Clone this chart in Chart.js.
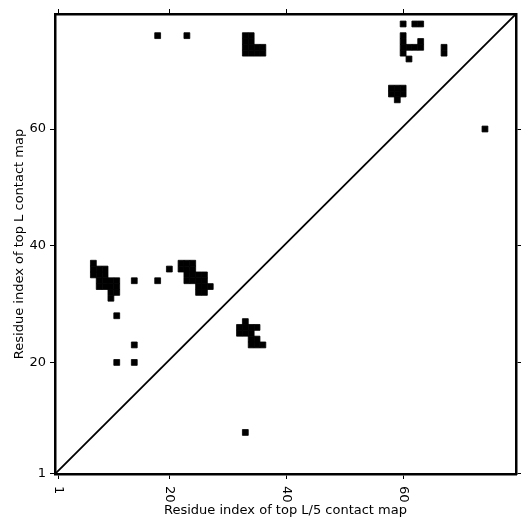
<!DOCTYPE html>
<html>
<head>
<meta charset="utf-8">
<title>Contact map</title>
<script src="https://cdn.jsdelivr.net/npm/chart.js@4/dist/chart.umd.min.js"></script>
<style>
  html, body { margin: 0; padding: 0; background: #fff; }
  canvas { display: block; }
</style>
</head>
<body>
<canvas id="contact-map" width="531" height="531"></canvas>
<script>
// Contact map data (residue indices, 1-based)
const tickValues = [1, 20, 40, 60];
const xRange = [0.435, 79.31];
const yRange = [0.88, 79.71];

// contacts: column (x) and row (y) of each filled cell
const cellCols = [
  18, 23,
  33, 34, 33, 34, 33, 34, 35, 36, 33, 34, 35, 36,
  60, 62, 63,
  60, 60, 60, 60, 61, 62, 63, 63, 61,
  67, 67,
  58, 59, 60, 58, 59, 60, 59,
  74,
  7, 7, 8, 9, 7, 8, 9, 8, 9, 10, 11, 8, 9, 10, 11, 10, 11, 10,
  11, 14, 18, 20, 14, 11, 14,
  22, 23, 24, 22, 23, 24, 23, 24, 25, 26, 23, 24, 25, 26, 25, 26, 27, 25, 26,
  33, 32, 33, 34, 35, 32, 33, 34, 34, 35, 34, 35, 36,
  33
];
const cellRows = [
  76, 76,
  76, 76, 75, 75, 74, 74, 74, 74, 73, 73, 73, 73,
  78, 78, 78,
  76, 75, 74, 73, 74, 74, 74, 75, 72,
  74, 73,
  67, 67, 67, 66, 66, 66, 65,
  60,
  37, 36, 36, 36, 35, 35, 35, 34, 34, 34, 34, 33, 33, 33, 33, 32, 32, 31,
  28, 34, 34, 36, 23, 20, 20,
  37, 37, 37, 36, 36, 36, 35, 35, 35, 35, 34, 34, 34, 34, 33, 33, 33, 32, 32,
  27, 26, 26, 26, 26, 25, 25, 25, 24, 24, 23, 23, 23,
  8
];

// diagonal reference line
const diagonalX = [xRange[0], xRange[1]];
const diagonalY = [yRange[0], yRange[1]];

const xTitle = 'Residue index of top L/5 contact map';
const yTitle = 'Residue index of top L contact map';

Chart.defaults.font.family = "'DejaVu Sans', sans-serif";
Chart.defaults.font.size = 13;
Chart.defaults.color = '#000';

// fixed ticks on every axis
function setTicks(scale) {
  scale.ticks = tickValues.map(v => ({ value: v }));
}

// cell size in pixels from the x scale
function cellRadius(ctx) {
  const s = ctx.chart.scales.x;
  if (!s) return 4;
  return Math.abs(s.getPixelForValue(1) - s.getPixelForValue(0)) / Math.SQRT2;
}

// x tick labels are rotated clockwise, drawn here
const rotatedXLabels = {
  id: 'rotatedXLabels',
  afterDraw(chart) {
    const { ctx } = chart;
    const xs = chart.scales.x;
    ctx.save();
    ctx.font = "13px 'DejaVu Sans', sans-serif";
    ctx.fillStyle = '#000';
    ctx.textAlign = 'left';
    ctx.textBaseline = 'middle';
    tickValues.forEach(v => {
      ctx.save();
      ctx.translate(xs.getPixelForValue(v), xs.top + 12);
      ctx.rotate(Math.PI / 2);
      ctx.fillText(String(v), 0, 0);
      ctx.restore();
    });
    ctx.restore();
  }
};

const axisBase = {
  type: 'linear',
  afterBuildTicks: setTicks,
  grid: { display: true, drawOnChartArea: false, drawTicks: true, tickLength: 5, color: '#000', lineWidth: 1 },
  border: { display: true, color: '#000', width: 2.5 }
};

const chart = new Chart(document.getElementById('contact-map'), {
  type: 'scatter',
  data: {
    datasets: [
      {
        label: 'contacts',
        data: cellCols.map((c, i) => ({ x: c, y: cellRows[i] })),
        pointStyle: 'rect',
        pointRadius: cellRadius,
        pointHoverRadius: cellRadius,
        backgroundColor: '#000',
        borderColor: '#000',
        borderWidth: 0.8
      },
      {
        type: 'line',
        label: 'diagonal',
        data: diagonalX.map((x, i) => ({ x: x, y: diagonalY[i] })),
        borderColor: '#000',
        borderWidth: 1.8,
        pointRadius: 0,
        fill: false
      }
    ]
  },
  options: {
    responsive: false,
    devicePixelRatio: 1,
    animation: false,
    layout: { padding: { top: 14, right: 15, left: 0, bottom: 0 } },
    plugins: { legend: { display: false }, tooltip: { enabled: false } },
    scales: {
      x: {
        ...axisBase,
        position: 'bottom',
        min: xRange[0],
        max: xRange[1],
        ticks: { display: false },
        title: { display: true, text: xTitle, padding: { top: 0, bottom: 13 } },
        afterFit(s) { s.height = 57; }
      },
      y: {
        ...axisBase,
        position: 'left',
        min: yRange[0],
        max: yRange[1],
        ticks: { display: true, padding: 4, callback: v => String(v) },
        title: { display: true, text: yTitle, padding: { top: 12, bottom: 0 } },
        afterFit(s) { s.width = 55; }
      },
      x2: {
        ...axisBase,
        position: 'top',
        min: xRange[0],
        max: xRange[1],
        ticks: { display: false },
        afterFit(s) { s.height = 0; }
      },
      y2: {
        ...axisBase,
        position: 'right',
        min: yRange[0],
        max: yRange[1],
        ticks: { display: false },
        afterFit(s) { s.width = 0; }
      }
    }
  },
  plugins: [rotatedXLabels]
});
</script>
</body>
</html>
